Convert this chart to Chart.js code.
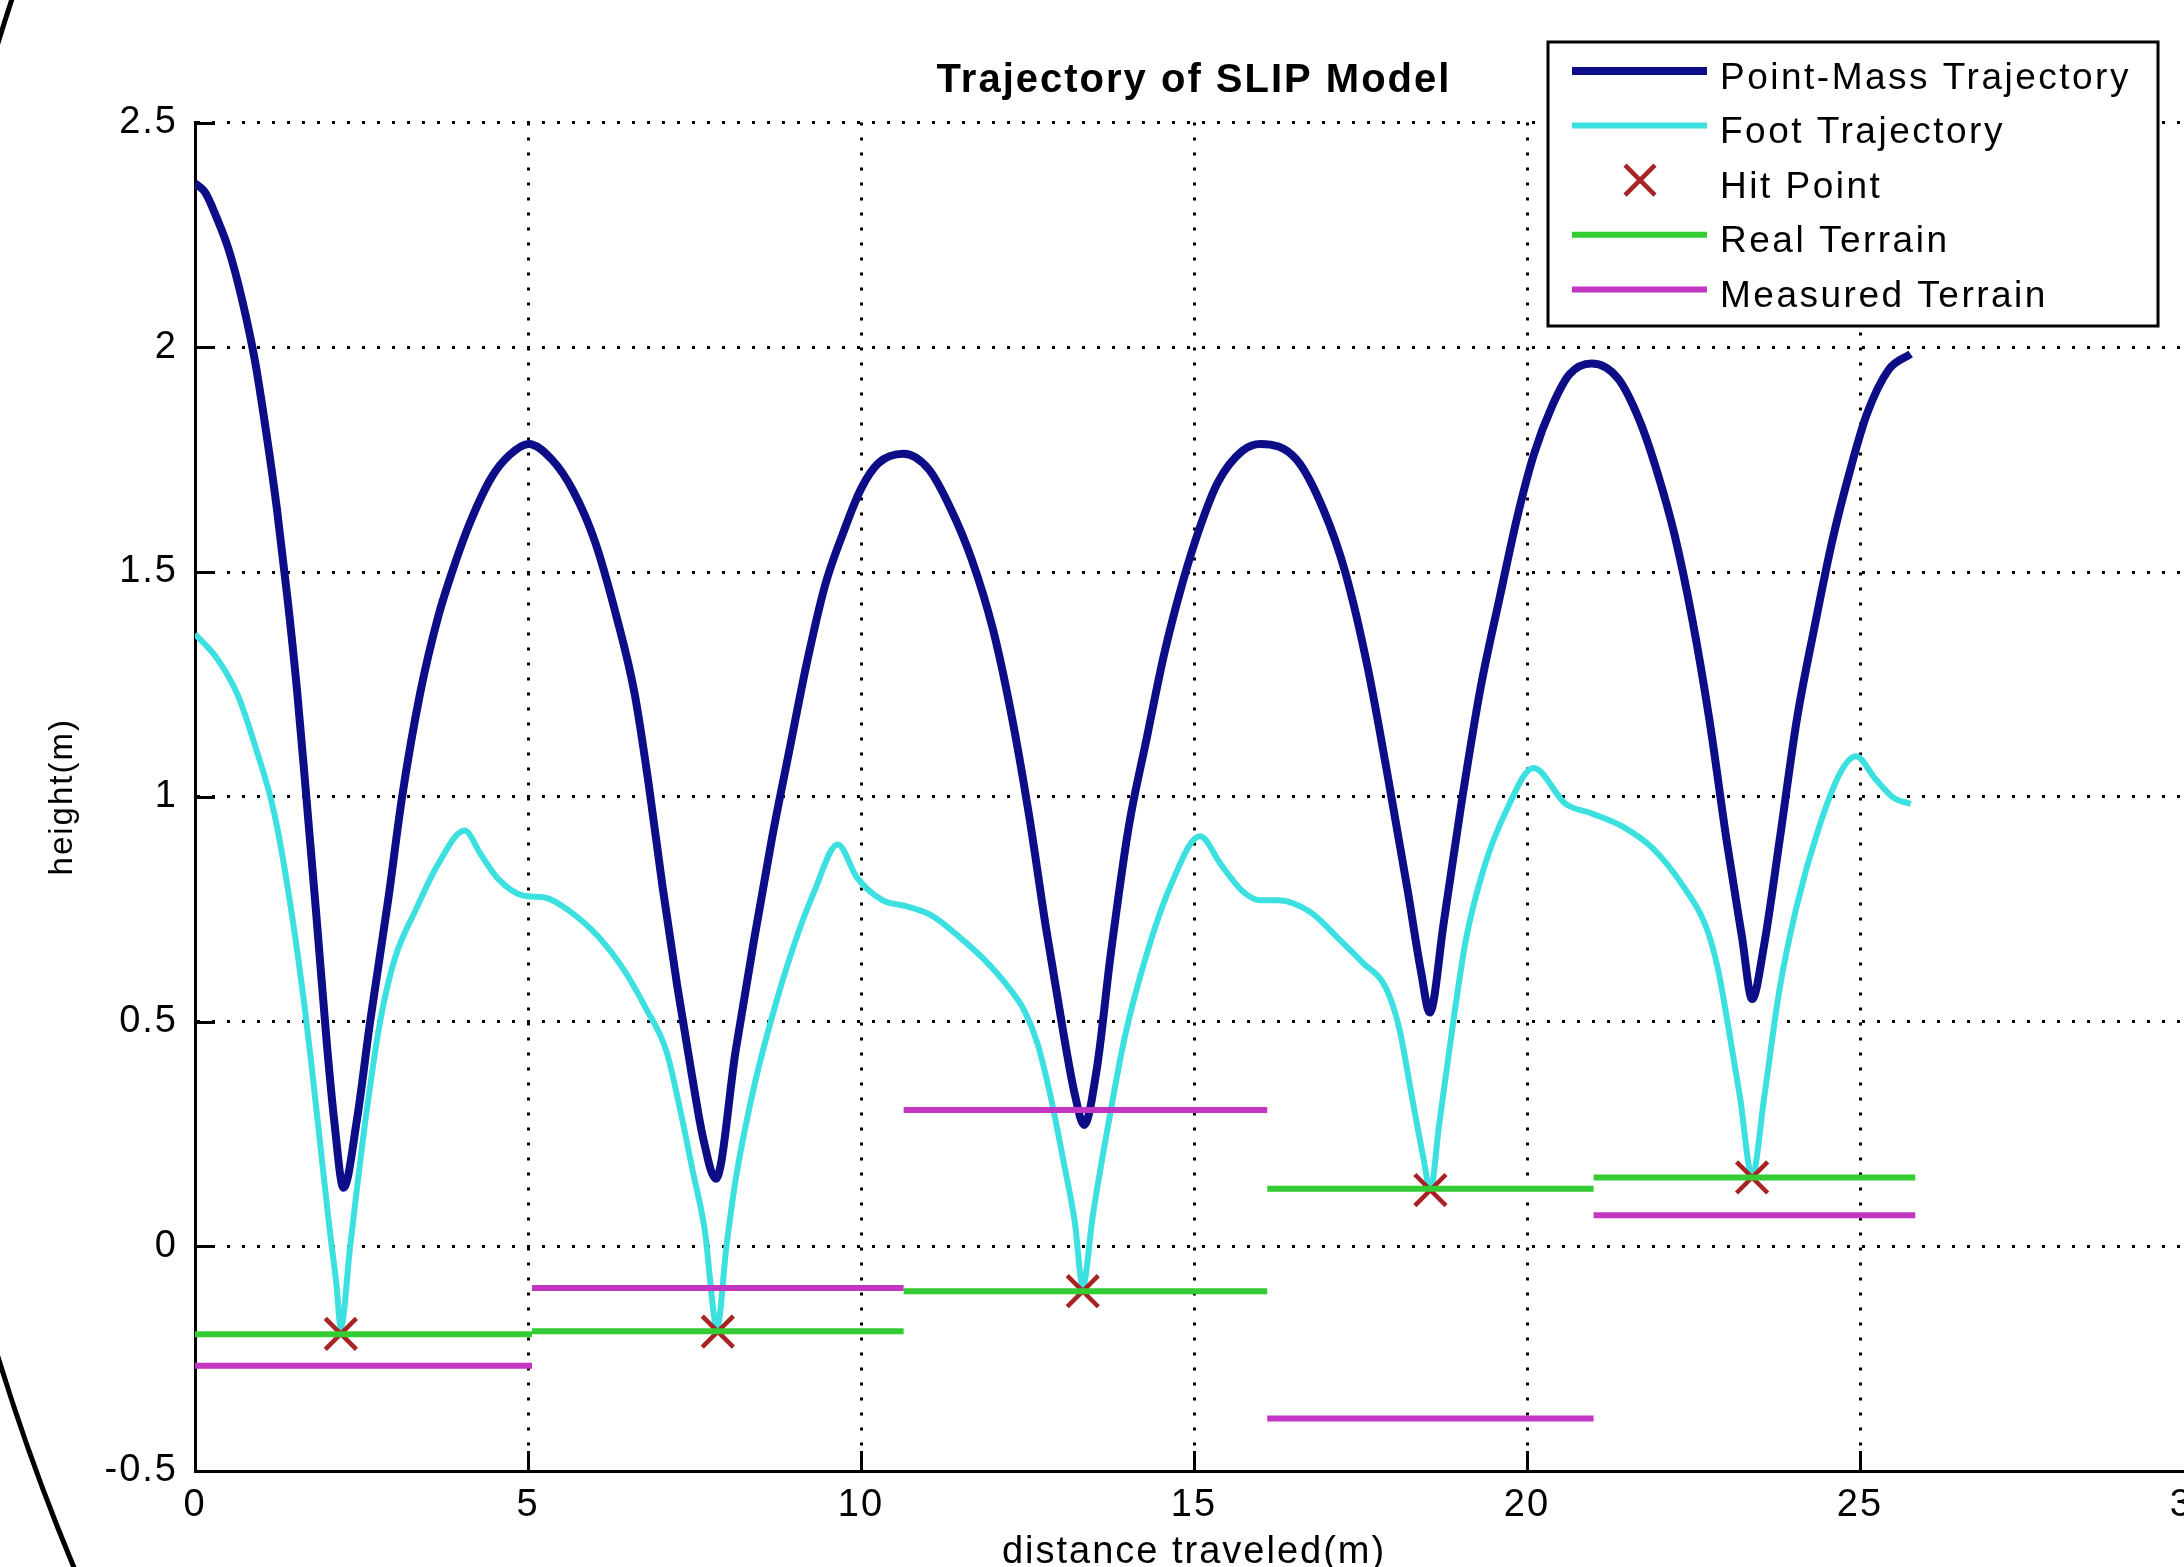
<!DOCTYPE html>
<html>
<head>
<meta charset="utf-8">
<title>Trajectory of SLIP Model</title>
<script src="https://cdn.jsdelivr.net/npm/chart.js@4.4.1/dist/chart.umd.min.js"></script>
<style>
  html, body { margin: 0; padding: 0; background: #fff; overflow: hidden; }
  #wrap { position: relative; width: 2184px; height: 1567px; overflow: hidden; background: #fff; }
  #chart { position: absolute; left: 0; top: 0; }
</style>
</head>
<body>
<div id="wrap"><canvas id="chart" width="2230" height="1600"></canvas></div>
<script>
/* DATA */
const pmX = [0, 0.15, 0.32, 0.5, 0.7, 0.9, 1.07, 1.23, 1.39, 1.53, 1.66, 1.82, 1.98, 2.09, 2.23, 2.43, 2.63, 2.9, 3.11,
  3.38, 3.65, 3.86, 4.13, 4.45, 4.72, 5.01, 5.36, 5.68, 6.0, 6.33, 6.6, 6.81, 7.02, 7.24, 7.45, 7.63, 7.82,
  8.12, 8.39, 8.66, 8.92, 9.19, 9.46, 9.73, 10.0, 10.26, 10.64, 11.02, 11.34, 11.66, 11.98, 12.25, 12.52, 12.78,
  13.05, 13.21, 13.35, 13.54, 13.75, 14.02, 14.29, 14.55, 14.82, 15.09, 15.36, 15.73, 16.0, 16.54, 16.94, 17.27,
  17.61, 17.94, 18.21, 18.41, 18.54, 18.75, 19.01, 19.3, 19.6, 19.85, 20.1, 20.38, 20.64, 20.97, 21.37, 21.69, 21.96,
  22.22, 22.48, 22.74, 23.0, 23.23, 23.38, 23.56, 23.79, 24.05, 24.32, 24.58, 24.84, 25.1, 25.43, 25.76];
const pmY = [2.365, 2.345, 2.29, 2.22, 2.11, 1.97, 1.81, 1.64, 1.44, 1.24, 1.02, 0.74, 0.45, 0.28, 0.13, 0.28, 0.5, 0.77, 1.0,
  1.23, 1.40, 1.5, 1.61, 1.71, 1.76, 1.785, 1.75, 1.68, 1.57, 1.40, 1.23, 1.03, 0.80, 0.58, 0.39, 0.24, 0.15,
  0.437, 0.678, 0.905, 1.10, 1.30, 1.47, 1.586, 1.685, 1.742, 1.763, 1.728, 1.643, 1.529, 1.373, 1.189, 0.962, 0.706,
  0.465, 0.338, 0.27, 0.394, 0.65, 0.933, 1.13, 1.316, 1.472, 1.6, 1.70, 1.77, 1.785, 1.75, 1.64, 1.5,
  1.286, 1.02, 0.79, 0.61, 0.52, 0.72, 0.98, 1.24, 1.45, 1.62, 1.76, 1.87, 1.94, 1.964, 1.93, 1.837, 1.72,
  1.58, 1.396, 1.17, 0.90, 0.686, 0.55, 0.67, 0.90, 1.17, 1.38, 1.567, 1.72, 1.85, 1.95, 1.985];

const footX = [0, 0.32, 0.64, 0.91, 1.18, 1.39, 1.61, 1.77, 1.9, 2.02, 2.12, 2.19, 2.33, 2.55, 2.78, 3.0, 3.32, 3.65,
  4.05, 4.29, 4.56, 4.93, 5.25, 5.63, 6.06, 6.43, 6.76, 7.08, 7.29, 7.47, 7.65, 7.84, 7.98, 8.12, 8.39, 8.66, 8.98,
  9.3, 9.65, 9.94, 10.32, 10.69, 11.07, 11.5, 11.87, 12.2, 12.46, 12.65, 12.84, 13.05, 13.21, 13.33, 13.48, 13.69,
  13.96, 14.29, 14.66, 15.09, 15.41, 15.73, 15.99, 16.27, 16.74, 17.2, 17.54, 17.88, 18.08, 18.28, 18.44, 18.55,
  18.68, 18.88, 19.08, 19.35, 19.68, 20.1, 20.58, 20.97, 21.43, 21.89, 22.35, 22.68, 22.87, 23.04, 23.2, 23.38,
  23.56, 23.79, 24.05, 24.38, 24.71, 24.94, 25.23, 25.5, 25.76];
const footY = [1.362, 1.31, 1.227, 1.11, 0.97, 0.80, 0.574, 0.376, 0.2, 0.04, -0.08, -0.18, 0.0, 0.27, 0.5, 0.64, 0.75, 0.85,
  0.925, 0.872, 0.816, 0.78, 0.776, 0.745, 0.688, 0.617, 0.532, 0.433, 0.3, 0.17, 0.04, -0.18, 0.0, 0.15, 0.352, 0.508, 0.664,
  0.79, 0.894, 0.82, 0.77, 0.756, 0.735, 0.685, 0.635, 0.579, 0.522, 0.451, 0.338, 0.182, 0.054, -0.09, 0.068, 0.252,
  0.465, 0.65, 0.806, 0.912, 0.848, 0.79, 0.77, 0.77, 0.744, 0.68, 0.63, 0.575, 0.486, 0.326, 0.2, 0.125,
  0.27, 0.486, 0.68, 0.84, 0.966, 1.064, 0.984, 0.963, 0.934, 0.885, 0.80, 0.714, 0.615, 0.473, 0.33, 0.155,
  0.33, 0.57, 0.757, 0.93, 1.055, 1.09, 1.04, 0.998, 0.984];

const hitX = [2.19, 7.85, 13.33, 18.55, 23.38];
const hitY = [-0.195, -0.19, -0.1, 0.125, 0.153];

const terrainStart = [0, 5.06, 10.64, 16.1, 21.0];
const terrainEnd = [5.06, 10.64, 16.1, 21.0, 25.83];
const realTerrain = [-0.196, -0.189, -0.1, 0.128, 0.153];
const measuredTerrain = [-0.266, -0.093, 0.303, -0.383, 0.069];

const xTicks = [0, 5, 10, 15, 20, 25, 30];
const xTickLabels = ["0", "5", "10", "15", "20", "25", "30"];
const yTicks = [-0.5, 0, 0.5, 1, 1.5, 2, 2.5];
const yTickLabels = ["-0.5", "0", "0.5", "1", "1.5", "2", "2.5"];

/* COLOURS */
const pmColor = "#0d0d88";
const footColor = "#3ce0e0";
const hitColor = "#a82323";
const realColor = "#33cc33";
const measColor = "#c236c2";

const pts = (xs, ys) => xs.map((x, i) => ({ x, y: ys[i] }));
const segs = vals => terrainStart.flatMap((s, i) => [
  { x: s, y: vals[i] }, { x: terrainEnd[i], y: vals[i] }, { x: terrainEnd[i], y: null }
]);

Chart.defaults.font.family = '"Liberation Sans", Arial, sans-serif';
Chart.defaults.color = "#000";

/* wider letter spacing, like the old bitmap font */
const spacing = {
  id: "spacing",
  beforeUpdate(c) { c.ctx.letterSpacing = "2px"; },
  beforeLayout(c) { c.ctx.letterSpacing = "2px"; },
  beforeDraw(c) { c.ctx.letterSpacing = "2px"; }
};

/* inward tick marks, matlab style */
const innerTicks = {
  id: "innerTicks",
  afterDraw(chart) {
    const { ctx, chartArea: a, scales: { x, y } } = chart;
    ctx.save();
    ctx.strokeStyle = "#000";
    ctx.lineWidth = 3;
    ctx.beginPath();
    yTicks.forEach(v => {
      const py = Math.round(y.getPixelForValue(v)) + 0.5;
      ctx.moveTo(a.left, py); ctx.lineTo(a.left + 20, py);
    });
    xTicks.forEach(v => {
      const px = Math.round(x.getPixelForValue(v)) + 0.5;
      ctx.moveTo(px, a.bottom); ctx.lineTo(px, a.bottom - 20);
    });
    ctx.stroke();
    ctx.restore();
  }
};

/* the black round frame seen at the left edge */
const frameArc = {
  id: "frameArc",
  afterDraw(chart) {
    const ctx = chart.ctx;
    ctx.save();
    ctx.strokeStyle = "#000";
    ctx.lineWidth = 5;
    ctx.beginPath();
    ctx.arc(2150, 700, 2250, 0, Math.PI * 2);
    ctx.stroke();
    ctx.restore();
  }
};

/* LEGEND box at the top right */
const legendBox = {
  id: "legendBox",
  afterDraw(chart) {
    const ctx = chart.ctx;
    ctx.save();
    ctx.fillStyle = "#fff";
    ctx.fillRect(1548, 42, 610, 284);
    ctx.lineWidth = 3;
    ctx.strokeStyle = "#000";
    ctx.strokeRect(1548, 42, 610, 284);
    ctx.font = '37px "Liberation Sans", Arial, sans-serif';
    ctx.letterSpacing = "2.5px";
    ctx.textBaseline = "alphabetic";
    ctx.textAlign = "left";
    chart.data.datasets.forEach((ds, i) => {
      const base = 88.5 + 54.6 * i;
      const my = base - 17.5;
      ctx.strokeStyle = ds.borderColor;
      if (ds.showLine) {
        ctx.lineWidth = ds.borderWidth;
        ctx.beginPath();
        ctx.moveTo(1572, my); ctx.lineTo(1707, my);
        ctx.stroke();
      } else {
        const r = 15;
        ctx.lineWidth = 4.5;
        ctx.beginPath();
        ctx.moveTo(1640 - r, my - r); ctx.lineTo(1640 + r, my + r);
        ctx.moveTo(1640 + r, my - r); ctx.lineTo(1640 - r, my + r);
        ctx.stroke();
      }
      ctx.fillStyle = "#000";
      ctx.fillText(ds.label, 1720, base);
    });
    ctx.restore();
  }
};

const gridOpts = { color: "#000", lineWidth: 3, drawTicks: false };
const borderOpts = { display: true, color: "#000", width: 3, dash: [3, 12] };

new Chart(document.getElementById("chart"), {
  type: "scatter",
  data: {
    datasets: [
      { label: "Point-Mass Trajectory", data: pts(pmX, pmY), showLine: true, borderColor: pmColor,
        backgroundColor: pmColor, borderWidth: 8, pointRadius: 0, cubicInterpolationMode: "monotone", order: 5 },
      { label: "Foot Trajectory", data: pts(footX, footY), showLine: true, borderColor: footColor,
        backgroundColor: footColor, borderWidth: 6, pointRadius: 0, cubicInterpolationMode: "monotone", order: 4 },
      { label: "Hit Point", data: pts(hitX, hitY), showLine: false, borderColor: hitColor,
        backgroundColor: hitColor, pointStyle: "crossRot", pointRadius: 22, pointBorderWidth: 4.5, order: 3 },
      { label: "Real Terrain", data: segs(realTerrain), showLine: true, borderColor: realColor,
        backgroundColor: realColor, borderWidth: 6, pointRadius: 0, order: 2 },
      { label: "Measured Terrain", data: segs(measuredTerrain), showLine: true, borderColor: measColor,
        backgroundColor: measColor, borderWidth: 6, pointRadius: 0, order: 1 }
    ]
  },
  options: {
    responsive: false,
    animation: false,
    events: [],
    layout: { padding: { left: 0, right: 37, top: 0, bottom: 0 } },
    scales: {
      x: {
        type: "linear", min: 0, max: 30,
        afterBuildTicks: s => { s.ticks = xTicks.map(v => ({ value: v })); },
        afterFit: s => { s.height = 129; },
        ticks: { callback: (v, i) => xTickLabels[i], font: { size: 38 }, padding: 12, maxRotation: 0, autoSkip: false },
        grid: gridOpts,
        border: borderOpts,
        title: { display: true, text: "distance traveled(m)", font: { size: 38 }, padding: { top: 0, bottom: 25 } }
      },
      y: {
        type: "linear", min: -0.5, max: 2.5,
        afterBuildTicks: s => { s.ticks = yTicks.map(v => ({ value: v })); },
        afterFit: s => { s.width = 195; },
        ticks: { callback: (v, i) => yTickLabels[i], font: { size: 38 }, padding: 17, autoSkip: false },
        grid: gridOpts,
        border: borderOpts,
        title: { display: true, text: "height(m)", font: { size: 33 }, padding: { top: 43, bottom: 0 } }
      }
    },
    plugins: {
      legend: { display: false },
      tooltip: { enabled: false },
      title: {
        display: true, text: "Trajectory of SLIP Model", fullSize: false,
        font: { size: 40, weight: "bold" }, padding: { top: 57, bottom: 17.5 }
      }
    }
  },
  plugins: [spacing, innerTicks, frameArc, legendBox]
});
</script>
</body>
</html>
